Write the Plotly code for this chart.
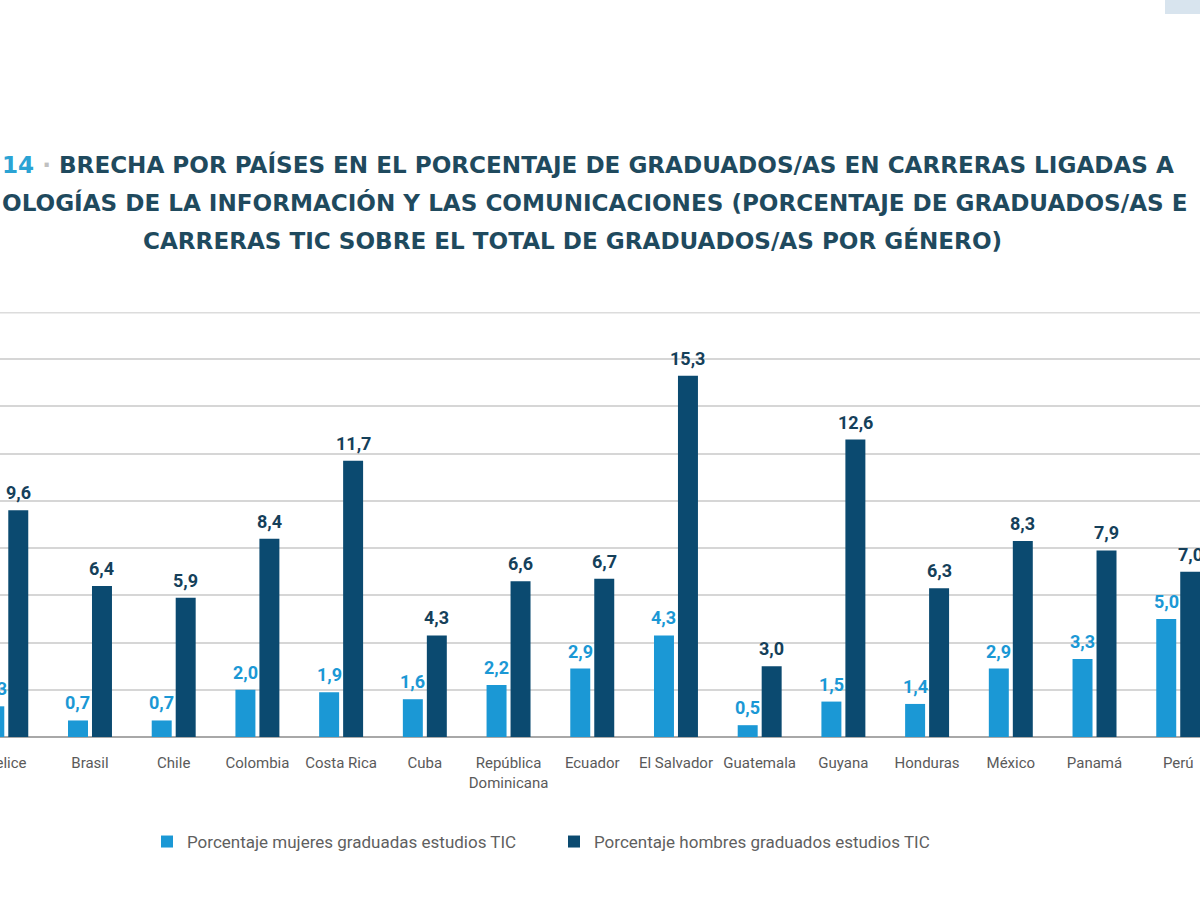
import plotly.graph_objects as go

countries = ["Belice", "Brasil", "Chile", "Colombia", "Costa Rica", "Cuba",
             "República<br>Dominicana", "Ecuador", "El Salvador", "Guatemala",
             "Guyana", "Honduras", "México", "Panamá", "Perú"]
mujeres = [1.3, 0.7, 0.7, 2.0, 1.9, 1.6, 2.2, 2.9, 4.3, 0.5, 1.5, 1.4, 2.9, 3.3, 5.0]
hombres = [9.6, 6.4, 5.9, 8.4, 11.7, 4.3, 6.6, 6.7, 15.3, 3.0, 12.6, 6.3, 8.3, 7.9, 7.0]
series_names = ["Porcentaje mujeres graduadas estudios TIC",
                "Porcentaje hombres graduados estudios TIC"]

title_lines = [
    "<span style='color:#2ba3d4'>14</span> <span style='color:#c0c0c0'>·</span> "
    "BRECHA POR PAÍSES EN EL PORCENTAJE DE GRADUADOS/AS EN CARRERAS LIGADAS A",
    "OLOGÍAS DE LA INFORMACIÓN Y LAS COMUNICACIONES (PORCENTAJE DE GRADUADOS/AS E",
    "CARRERAS TIC SOBRE EL TOTAL DE GRADUADOS/AS POR GÉNERO)",
]

C_W = "#1b98d5"
C_M = "#0b4a70"
C_ML = "#15405a"
LBL = "Roboto, Liberation Sans, sans-serif"
TITLE_FONT = "DejaVu Sans, sans-serif"

fig = go.Figure()
fig.add_trace(go.Bar(x=countries, y=mujeres, name=series_names[0],
                     marker=dict(color=C_W, line=dict(width=0))))
fig.add_trace(go.Bar(x=countries, y=hombres, name=series_names[1],
                     marker=dict(color=C_M, line=dict(width=0))))

annotations = []
for vals, shift, col in [(mujeres, -12, C_W), (hombres, 12, C_ML)]:
    for c, v in zip(countries, vals):
        annotations.append(dict(
            x=c, y=v, xref="x", yref="y", text=f"{v:.1f}".replace(".", ","),
            showarrow=False, yanchor="bottom", xanchor="center",
            xshift=shift, yshift=5,
            font=dict(family=LBL, size=18, color=col, weight="bold")))

# title lines: (x in px, anchor, y centre in px)
title_pos = [(0, "left", 164), (0, "left", 203), (572, "center", 240)]
for t, (px, anc, py) in zip(title_lines, title_pos):
    annotations.append(dict(
        x=px / 1200, y=(737 - py) / 425, xref="paper", yref="paper", text=t,
        showarrow=False, xanchor=anc, yanchor="middle",
        font=dict(family=TITLE_FONT, size=23.1, color="#1f4a5e", weight="bold")))

shapes = [
    dict(type="line", xref="paper", yref="y", x0=0, x1=1, y0=18, y1=18,
         line=dict(color="#dcdcdc", width=3), layer="below"),
    dict(type="rect", xref="paper", yref="paper", x0=1165 / 1200, x1=1.0,
         y0=(737 - 14) / 425, y1=737 / 425, fillcolor="#d8e4ee",
         line=dict(width=0), layer="below"),
]

fig.update_layout(
    width=1200, height=900,
    margin=dict(l=0, r=0, t=312, b=163, autoexpand=False),
    paper_bgcolor="white", plot_bgcolor="white",
    barmode="group", bargap=0.427, bargroupgap=0.167,
    showlegend=True,
    legend=dict(orientation="h", x=147 / 1200, xanchor="left", y=-0.247, yanchor="middle",
                font=dict(family=LBL, size=17, color="#5f5f5f"),
                entrywidth=362, entrywidthmode="pixels", traceorder="normal"),
    xaxis=dict(range=[-0.075, 14.26], showgrid=False, ticks="outside", ticklen=12,
               tickcolor="rgba(0,0,0,0)", tickangle=0, automargin=False,
               tickfont=dict(family=LBL, size=15, color="#5a5a5a")),
    yaxis=dict(range=[0, 18], dtick=2, showticklabels=False, showgrid=True,
               gridcolor="#d6d6d6", gridwidth=1.5, automargin=False,
               zeroline=True, zerolinecolor="#a8a8a8", zerolinewidth=1.5),
    annotations=annotations, shapes=shapes,
)

fig.write_html("out.html", config={"displayModeBar": False},
               post_script="document.body.style.margin='0';document.body.style.overflow='hidden';")
